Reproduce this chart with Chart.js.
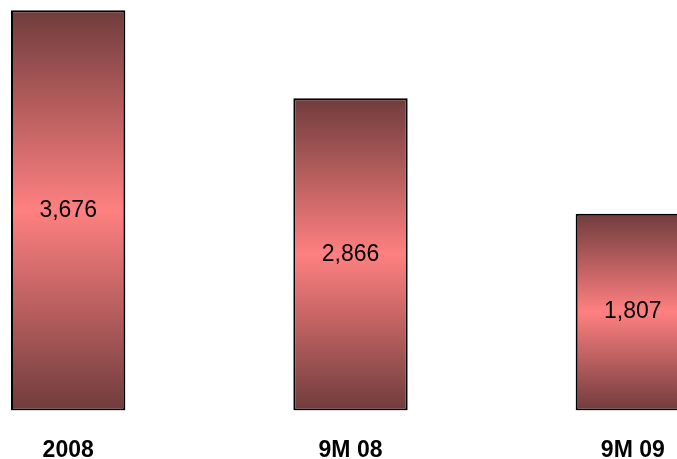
<!DOCTYPE html>
<html>
<head>
<meta charset="utf-8">
<script src="https://cdn.jsdelivr.net/npm/chart.js@4/dist/chart.umd.min.js"></script>
<style>
  html, body { margin: 0; padding: 0; background: #fff; overflow: hidden; }
  #wrap { position: absolute; left: -73px; top: 0; width: 847px; height: 459px; }
</style>
</head>
<body>
<div id="wrap"><canvas id="chart"></canvas></div>
<script>
// chart data
const categories = ["2008", "9M 08", "9M 09"];
const values = [3676, 2866, 1807];
const valueLabels = ["3,676", "2,866", "1,807"];

// vertical gradient per bar: dark at the ends, pink in the middle
const barGradient = (context) => {
  const chart = context.chart;
  const { ctx, chartArea, scales } = chart;
  if (!chartArea) return "#ff8080";
  const v = context.raw;
  const top = scales.y.getPixelForValue(v);
  const bottom = scales.y.getPixelForValue(0);
  const g = ctx.createLinearGradient(0, top, 0, bottom);
  g.addColorStop(0, "#703c3c");
  g.addColorStop(0.5, "#ff8080");
  g.addColorStop(1, "#703c3c");
  return g;
};

// write the value in the middle of each bar
const valueLabelPlugin = {
  id: "valueLabels",
  afterDatasetsDraw(chart) {
    const ctx = chart.ctx;
    const meta = chart.getDatasetMeta(0);
    ctx.save();
    ctx.font = "23px 'Liberation Sans', Arial, sans-serif";
    ctx.fillStyle = "#000";
    ctx.textAlign = "center";
    ctx.textBaseline = "middle";
    meta.data.forEach((bar, i) => {
      const y = (bar.y + bar.base) / 2;
      ctx.fillText(valueLabels[i], bar.x, y);
    });
    ctx.restore();
  }
};

new Chart(document.getElementById("chart"), {
  type: "bar",
  data: {
    labels: categories,
    datasets: [{
      data: values,
      backgroundColor: barGradient,
      borderColor: "#000",
      borderWidth: 2,
      borderSkipped: false,
      barPercentage: 0.405,
      categoryPercentage: 1.0
    }]
  },
  options: {
    responsive: true,
    maintainAspectRatio: false,
    animation: false,
    layout: { padding: { top: 0, bottom: -23, left: 0, right: 0 } },
    plugins: {
      legend: { display: false },
      tooltip: { enabled: false }
    },
    scales: {
      x: {
        grid: { display: false },
        border: { display: false },
        ticks: {
          color: "#000",
          padding: 18,
          font: { family: "'Liberation Sans', Arial, sans-serif", size: 23, weight: "bold" }
        }
      },
      y: {
        display: false,
        min: 0,
        max: 3769
      }
    }
  },
  plugins: [valueLabelPlugin]
});
</script>
</body>
</html>
